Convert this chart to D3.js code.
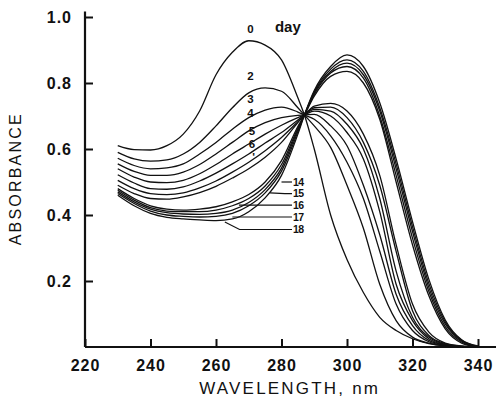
<!DOCTYPE html>
<html>
<head>
<meta charset="utf-8">
<title>Absorbance spectra</title>
<script src="https://d3js.org/d3.v7.min.js"></script>
<style>
  body { margin: 0; background: #fff; }
  text { font-family: "Liberation Sans", Arial, sans-serif; fill: #111; }
</style>
</head>
<body>
<script>
// wavelength grid, nm
const wavelengths = [230, 235, 240, 245, 250, 255, 260, 265, 270, 275, 280, 285, 287, 290, 295, 300, 305, 310, 315, 320, 325, 330, 335, 340];

// absorbance, one array per day
const day0  = [.610, .598, .597, .610, .645, .715, .825, .893, .928, .915, .870, .755, .703, .600, .400, .265, .165, .090, .050, .025, .010, .003, 0, 0];
const day2  = [.590, .570, .563, .567, .585, .620, .670, .725, .770, .785, .775, .725, .703, .670, .605, .490, .360, .190, .080, .030, .012, .004, .001, 0];
const day3  = [.572, .550, .540, .543, .555, .585, .620, .660, .695, .718, .727, .712, .703, .690, .640, .560, .450, .290, .130, .050, .016, .005, .001, 0];
const day4  = [.555, .532, .520, .520, .530, .553, .585, .620, .655, .680, .695, .702, .703, .705, .670, .610, .490, .340, .160, .065, .020, .006, .001, 0];
const day5  = [.540, .515, .500, .498, .505, .525, .553, .585, .615, .645, .672, .695, .703, .715, .700, .650, .570, .410, .190, .080, .025, .007, .001, 0];
const day6  = [.522, .497, .480, .478, .485, .503, .527, .555, .585, .618, .650, .688, .703, .720, .715, .675, .600, .450, .230, .090, .030, .008, .002, 0];
const day7  = [.505, .480, .465, .462, .467, .482, .503, .530, .560, .595, .635, .683, .703, .725, .727, .695, .620, .490, .290, .110, .035, .010, .002, 0];
const day8  = [.490, .465, .450, .448, .455, .468, .487, .512, .540, .575, .620, .680, .703, .730, .738, .715, .645, .520, .310, .130, .045, .012, .003, 0];
const day14 = [.480, .450, .428, .418, .415, .418, .425, .440, .462, .500, .565, .668, .703, .760, .820, .835, .800, .690, .500, .310, .155, .055, .012, 0];
const day15 = [.475, .445, .422, .412, .410, .410, .415, .428, .450, .488, .553, .663, .703, .765, .830, .850, .815, .700, .520, .330, .168, .062, .015, 0];
const day16 = [.470, .440, .418, .407, .403, .402, .405, .415, .438, .477, .542, .658, .703, .770, .835, .860, .825, .715, .540, .350, .180, .070, .018, .001];
const day17 = [.465, .435, .412, .400, .396, .394, .396, .405, .428, .467, .533, .652, .703, .773, .842, .870, .835, .725, .555, .365, .192, .076, .020, .002];
const day18 = [.460, .428, .405, .393, .388, .385, .383, .388, .410, .452, .520, .645, .703, .777, .850, .885, .850, .740, .570, .380, .205, .082, .022, .003];

const series = [day0, day2, day3, day4, day5, day6, day7, day8, day14, day15, day16, day17, day18];

// axis ticks
const xTicks = [220, 240, 260, 280, 300, 320, 340];
const yTicks = [0.2, 0.4, 0.6, 0.8, 1.0];

// day labels above the fan (early days)
const upperLabels = ["0", "2", "3", "4", "5", "6", "'"];
const upperLabelWl = [270.5, 270.5, 270.5, 270.5, 271, 271, 271.5];
const upperLabelAbs = [0.952, 0.810, 0.740, 0.698, 0.642, 0.602, 0.565];

// day labels with leaders (late days)
const lowerLabels = ["14", "15", "16", "17", "18"];
const leaderStartWl = [280, 276.5, 267, 265, 262.7];
const leaderStartAbs = [0.500, 0.467, 0.430, 0.394, 0.379];
const leaderAbs = [0.500, 0.465, 0.430, 0.394, 0.356];
const leaderEndWl = 283.2;

const w = 498, h = 400;

const svg = d3.select("body")
    .append("svg")
    .attr("width", w)
    .attr("height", h);

const x = d3.scaleLinear().domain([220, 340]).range([85, 478]);
const y = d3.scaleLinear().domain([0, 1]).range([347, 17]);

// axes
const xAxis = d3.axisBottom(x)
    .tickValues(xTicks)
    .tickSizeInner(-8)
    .tickSizeOuter(0)
    .tickPadding(14);

const yAxis = d3.axisLeft(y)
    .tickValues(yTicks)
    .tickFormat(d3.format(".1f"))
    .tickSizeInner(-8)
    .tickSizeOuter(0)
    .tickPadding(14);

const gx = svg.append("g")
    .attr("transform", "translate(0," + y(0) + ")")
    .call(xAxis);

const gy = svg.append("g")
    .attr("transform", "translate(" + x(220) + ",0)")
    .call(yAxis);

gx.select(".domain").remove();
gy.select(".domain").remove();

[gx, gy].forEach(g => {
    g.selectAll(".tick line").attr("stroke", "#111").attr("stroke-width", 2);
    g.selectAll(".tick text")
        .style("font-size", "16px")
        .style("font-weight", "bold")
        .style("letter-spacing", "1px")
        .attr("fill", "#111");
});
gx.selectAll(".tick text").attr("dy", "0.6em");
gy.selectAll(".tick text").attr("dx", "1px");

// axis lines
svg.append("line")
    .attr("x1", x(220)).attr("x2", x(345.5))
    .attr("y1", y(0)).attr("y2", y(0))
    .attr("stroke", "#111").attr("stroke-width", 2.2);

svg.append("line")
    .attr("x1", x(220)).attr("x2", x(220))
    .attr("y1", y(0)).attr("y2", y(1.017))
    .attr("stroke", "#111").attr("stroke-width", 2.2);

// axis titles
svg.append("text")
    .attr("transform", "translate(21," + y(0.51) + ") rotate(-90)")
    .attr("text-anchor", "middle")
    .style("font-size", "16px")
    .style("letter-spacing", "2.2px")
    .text("ABSORBANCE");

svg.append("text")
    .attr("x", x(282.5))
    .attr("y", 394)
    .attr("text-anchor", "middle")
    .style("font-size", "17px")
    .style("letter-spacing", "2.2px")
    .text("WAVELENGTH, nm");

// spectra
const line = d3.line()
    .x((d, i) => x(wavelengths[i]))
    .y(d => y(d))
    .curve(d3.curveMonotoneX);

svg.selectAll("path.spectrum")
    .data(series)
    .enter()
    .append("path")
    .attr("class", "spectrum")
    .attr("d", line)
    .attr("fill", "none")
    .attr("stroke", "#111")
    .attr("stroke-width", 1.3);

// labels
svg.append("text")
    .attr("x", x(278))
    .attr("y", y(0.955))
    .style("font-size", "15px")
    .style("font-weight", "bold")
    .text("day");

svg.selectAll("text.upper")
    .data(upperLabels)
    .enter()
    .append("text")
    .attr("class", "upper")
    .attr("x", (d, i) => x(upperLabelWl[i]))
    .attr("y", (d, i) => y(upperLabelAbs[i]))
    .attr("text-anchor", "middle")
    .style("font-size", "11.5px")
    .style("font-weight", "bold")
    .text(d => d);

svg.selectAll("path.leader")
    .data(lowerLabels)
    .enter()
    .append("path")
    .attr("class", "leader")
    .attr("d", (d, i) => {
        const pts = [[x(leaderStartWl[i]), y(leaderStartAbs[i])]];
        if (leaderStartAbs[i] !== leaderAbs[i]) pts.push([x(leaderStartWl[i] + 4.5), y(leaderAbs[i])]);
        pts.push([x(leaderEndWl), y(leaderAbs[i])]);
        return d3.line()(pts);
    })
    .attr("fill", "none")
    .attr("stroke", "#111")
    .attr("stroke-width", 1.2);

svg.selectAll("text.lower")
    .data(lowerLabels)
    .enter()
    .append("text")
    .attr("class", "lower")
    .attr("x", x(leaderEndWl) + 1)
    .attr("y", (d, i) => y(leaderAbs[i]))
    .attr("dy", "0.36em")
    .style("font-size", "10.5px")
    .style("font-weight", "bold")
    .style("letter-spacing", "-0.5px")
    .text(d => d);
</script>
</body>
</html>
